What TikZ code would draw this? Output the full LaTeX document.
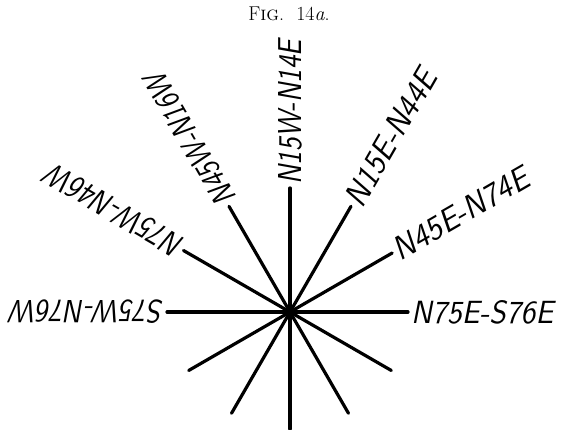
\documentclass[tikz,border=0pt]{standalone}
\usepackage{graphicx}
\begin{document}
\begin{tikzpicture}[x=1pt, y=1pt,
        ray/.style={line width=3.2pt, line cap=round},
        bearing/.style={font=\sffamily\itshape, anchor=west, inner sep=3pt}]
    \useasboundingbox (-290,-118) rectangle (277,312);
    \node[anchor=base] (title) at (-1,291)
        {\fontsize{20}{20}\selectfont F\textsc{ig}.\ \ 14\textit{a}.};
    \coordinate (c) at (0,0);
    % upper rays with their bearings
    \foreach \ang/\len/\lw/\txt [count=\i] in {0/118/142/N75E-S76E,
            30/118/152/N45E-N74E, 60/122/152/N15E-N44E, 90/124/145/N15W-N14E,
            120/122/148/N45W-N16W, 150/123/152/N75W-N46W, 180/123/153/S75W-N76W} {
        \coordinate (up\i) at (\ang:\len);
        \draw[ray] (c) -- (up\i);
        \node[bearing, rotate=\ang] (lab\i) at (up\i)
            {\resizebox{\lw pt}{23pt}{\txt}};
    }
    % lower rays
    \foreach \ang [count=\i] in {210,240,...,330} {
        \coordinate (dn\i) at (\ang:117);
        \draw[ray] (c) -- (dn\i);
    }
    \fill (c) circle (5);
\end{tikzpicture}
\end{document}
